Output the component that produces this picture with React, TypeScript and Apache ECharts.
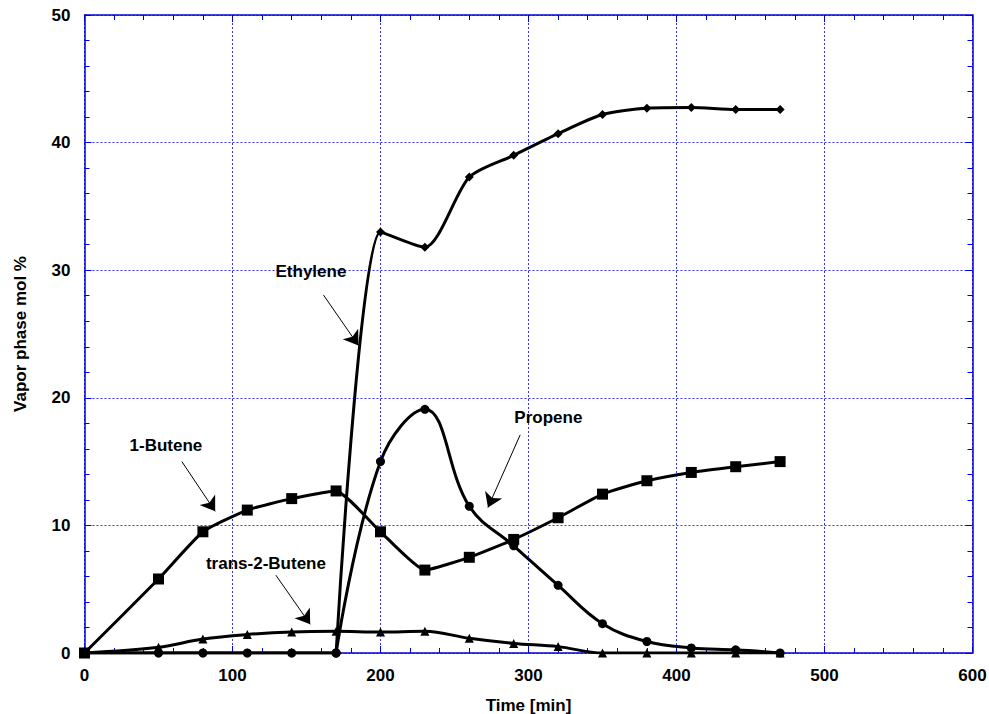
import React, { useEffect, useRef } from "react";
import * as echarts from "echarts";

const times = [0, 50, 80, 110, 140, 170, 200, 230, 260, 290, 320, 350, 380, 410, 440, 470];
const ethylene = [0, 0, 0, 0, 0, 0, 33.0, 31.8, 37.3, 39.0, 40.7, 42.2, 42.7, 42.75, 42.6, 42.6];
const propene = [0, 0, 0, 0, 0, 0, 15.0, 19.1, 11.5, 8.4, 5.3, 2.3, 0.9, 0.4, 0.25, 0];
const butene1 = [0, 5.8, 9.5, 11.2, 12.1, 12.7, 9.5, 6.5, 7.5, 8.9, 10.6, 12.45, 13.5, 14.15, 14.6, 15.0];
const trans2Butene = [0, 0.45, 1.1, 1.45, 1.65, 1.7, 1.65, 1.7, 1.15, 0.75, 0.5, 0, 0, 0, 0, 0];

const xTicks = { min: 0, max: 600, interval: 100 };
const yTicks = { min: 0, max: 50, interval: 10 };

const annotationLabels: [string, number, number][] = [
  ["Ethylene", 153, 29.9],
  ["1-Butene", 55, 16.3],
  ["trans-2-Butene", 122.6, 7.0],
  ["Propene", 313.4, 18.45],
];
const annotationArrows: [number, number, number, number][] = [
  [161.5, 28.05, 185.1, 24.1],
  [65.8, 15.0, 88.3, 11.1],
  [129.3, 6.1, 152.5, 2.25],
  [294.4, 17.1, 272.6, 11.4],
];

const BLUE = "#0000dd";
const GRID_BLUE = "#3030ff";
const FONT = "'Liberation Sans', Arial, Helvetica, sans-serif";

function pairs(ys: number[], from = 0, to = times.length) {
  return times.map((t, i) => [t, ys[i]]).slice(from, to);
}

export default function App() {
  const ref = useRef<HTMLDivElement>(null);
  useEffect(() => {
    if (!ref.current) return;
    const chart = echarts.init(ref.current, undefined, { renderer: "svg" });

    const axisCommon = {
      type: "value" as const,
      axisLine: { show: true, onZero: false, lineStyle: { color: BLUE, width: 1.5 } },
      axisTick: { show: true, inside: true, length: 7, lineStyle: { color: BLUE, width: 1 } },
      minorTick: { show: true, splitNumber: 5, length: 5, lineStyle: { color: BLUE, width: 1 } },
    };

    const lineSeries = (name: string, data: number[][], symbol: string, size: number, z: number, smooth: number) => ({
      name,
      type: "line" as const,
      data,
      smooth,
      symbol,
      symbolSize: size,
      showSymbol: true,
      z,
      lineStyle: { color: "#000", width: 3 },
      itemStyle: { color: "#000" },
      silent: true,
    });

    chart.setOption({
      animation: false,
      backgroundColor: "#fff",
      textStyle: { fontFamily: FONT },
      grid: { left: 84.5, right: 16.5, top: 15, bottom: 61, containLabel: false, outerBoundsMode: "none" },
      xAxis: [
        {
          ...axisCommon,
          position: "bottom",
          ...xTicks,
          name: "Time [min]",
          nameLocation: "middle",
          nameGap: 44,
          nameTextStyle: { color: "#000", fontWeight: "bold", fontSize: 17, fontFamily: FONT },
          axisLabel: { color: "#000", fontWeight: "bold", fontSize: 17, margin: 14, fontFamily: FONT },
          splitLine: { show: true, lineStyle: { color: GRID_BLUE, width: 1, type: [2, 2] } },
        },
        {
          ...axisCommon,
          position: "top",
          ...xTicks,
          axisLabel: { show: false },
          splitLine: { show: false },
        },
      ],
      yAxis: [
        {
          ...axisCommon,
          position: "left",
          ...yTicks,
          name: "Vapor phase mol %",
          nameLocation: "middle",
          nameGap: 56,
          nameRotate: 90,
          nameTextStyle: { color: "#000", fontWeight: "bold", fontSize: 17, fontFamily: FONT },
          axisLabel: { color: "#000", fontWeight: "bold", fontSize: 17, margin: 14, fontFamily: FONT },
          splitLine: { show: true, lineStyle: { color: GRID_BLUE, width: 1, type: [2, 2] } },
        },
        {
          ...axisCommon,
          position: "right",
          ...yTicks,
          axisLabel: { show: false },
          splitLine: { show: false },
        },
      ],
      series: [
        {
          ...lineSeries("Ethylene", pairs(ethylene, 0, 6), "diamond", 9, 2, 0),
          markLine: {
            silent: true,
            symbol: ["none", "arrow"],
            symbolSize: 14,
            label: { show: false },
            lineStyle: { color: "#000", width: 1, type: "solid" },
            data: annotationArrows.map(([x1, y1, x2, y2]) => [
              { coord: [x1, y1] },
              { coord: [x2, y2] },
            ]),
          },
          markPoint: {
            silent: true,
            symbol: "circle",
            symbolSize: 1,
            itemStyle: { color: "rgba(0,0,0,0)" },
            label: {
              show: true,
              position: "inside",
              color: "#000",
              fontWeight: "bold",
              fontSize: 17,
              fontFamily: FONT,
              formatter: (p: any) => p.name,
            },
            data: annotationLabels.map(([name, x, y]) => ({ name, coord: [x, y] })),
          },
        },
        lineSeries("Ethylene ", pairs(ethylene, 5), "diamond", 9, 2, 0.25),
        lineSeries("1-Butene", pairs(butene1), "rect", 11, 3, 0.15),
        lineSeries("trans-2-Butene", pairs(trans2Butene), "triangle", 9, 4, 0.35),
        lineSeries("Propene", pairs(propene, 0, 6), "circle", 9, 5, 0),
        lineSeries("Propene ", pairs(propene, 5), "circle", 9, 5, 0.4),
      ],
    });
    return () => chart.dispose();
  }, []);
  return (
    <div
      ref={ref}
      style={{ position: "fixed", left: 0, top: 0, width: 989, height: 714, background: "#fff" }}
    />
  );
}
